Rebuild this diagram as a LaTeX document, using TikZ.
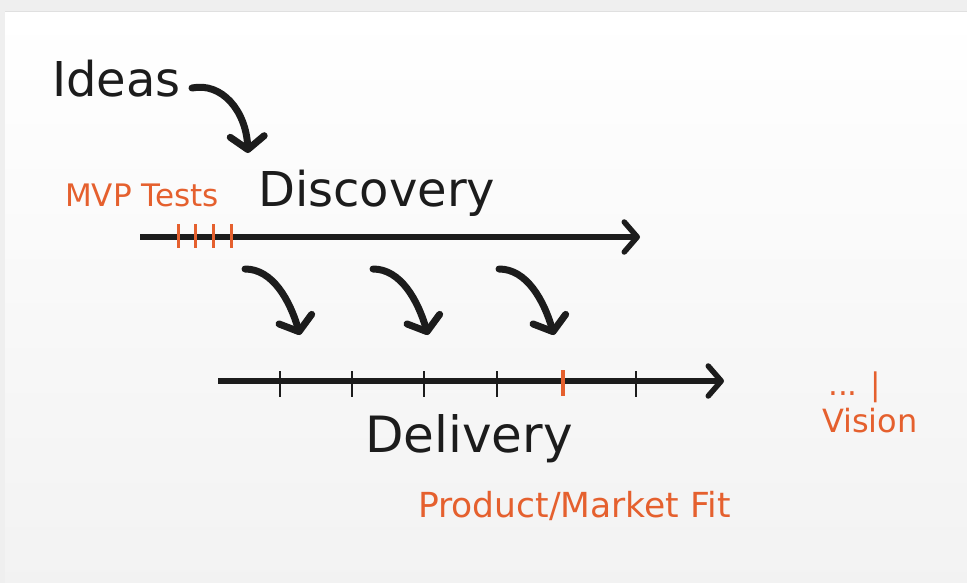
\documentclass[tikz,border=0pt]{standalone}
\usepackage{fontspec}
\setmainfont{DejaVu Sans}
\usetikzlibrary{arrows.meta}
\definecolor{ink}{HTML}{1C1C1C}
\definecolor{fitorange}{HTML}{E5602E}
\definecolor{frame}{HTML}{EFEFEF}
\tikzset{
	timeline/.style={ink, line width=5.5pt, -{Straight Barb[length=13pt,width=30pt,round]}},
	bendarrow/.style={ink, line width=7pt, line cap=round, -{Straight Barb[length=13pt,width=34pt,round]}},
	tickmark/.style={ink, line width=2.5pt},
	mvptick/.style={fitorange, line width=3pt},
	bigword/.style={ink, font=\fontsize{48}{48}\selectfont, anchor=base west, inner sep=0pt},
	smallword/.style={fitorange, font=\fontsize{31}{31}\selectfont, anchor=base west, inner sep=0pt},
}
\begin{document}
\begin{tikzpicture}[x=1pt, y=-1pt]
%	\draw [help lines] (0,0) grid (967,583);
	\useasboundingbox (0,0) rectangle (967,583);
	\fill [frame] (0,0) rectangle (967,583);
	\shade [top color=white, bottom color=black!5] (5,12) rectangle (967,583);
	\draw [black!12, line width=1pt] (5,11.5) -- (967,11.5);

	% words
	\node [bigword] (ideas) at (52,97) {Ideas};
	\node [bigword] (discovery) at (258,207) {Discovery};
	\node [bigword, font=\fontsize{50}{50}\selectfont] (delivery) at (365,452) {Delivery};
	\node [smallword] (mvp) at (65,207) {MVP Tests};
	\node [smallword, font=\fontsize{34.5}{34.5}\selectfont] (pmf) at (418,517) {Product/Market Fit};
	\node [smallword] (dots) at (828,395) {... |};
	\node [smallword, font=\fontsize{32}{32}\selectfont] (vision) at (822,432) {Vision};

	% the two lines
	\coordinate (disc start) at (140,237);
	\coordinate (disc end) at (640,237);
	\coordinate (deli start) at (218,381);
	\coordinate (deli end) at (724,381);
	\draw [timeline] (disc start) -- (disc end);
	\draw [timeline] (deli start) -- (deli end);
	\foreach \x in {178,195,213,231}
		\draw [mvptick] (\x,224) -- (\x,248);
	\foreach \x in {280,352,424,497,636}
		\draw [tickmark] (\x,371) -- (\x,397);
	\draw [mvptick, line width=4pt] (563,370) -- (563,396);

	% curved arrows
	\coordinate (ideas tail) at (192,88);
	\coordinate (ideas head) at (248,153);
	\draw [bendarrow] (ideas tail) .. controls +(30,-6) and +(-2,-42) .. (ideas head);
	\foreach \x [count=\i] in {245,373,499} {
		\coordinate (drop tail \i) at (\x,269);
		\coordinate (drop head \i) at (\x+55,335);
		\draw [bendarrow] (drop tail \i) .. controls +(28,0) and +(-10,-34) .. (drop head \i);
	}
\end{tikzpicture}
\end{document}
